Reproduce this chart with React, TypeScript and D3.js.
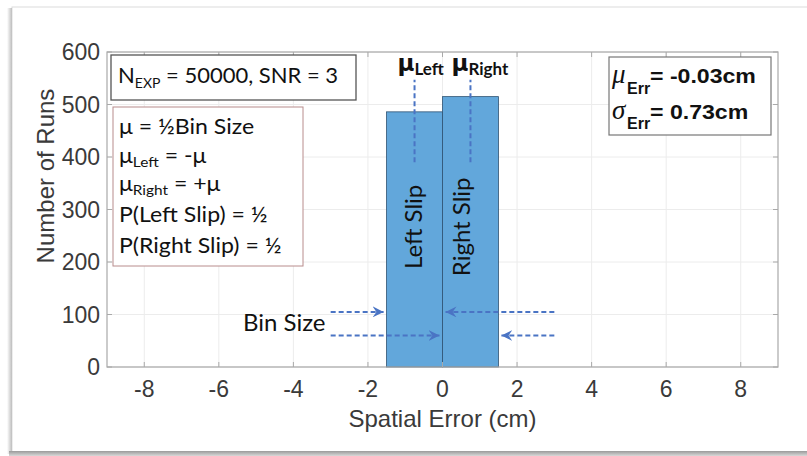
import React from 'react';
import * as d3 from 'd3';

const W = 807, H = 456;
const xTicks = [-8, -6, -4, -2, 0, 2, 4, 6, 8];
const yTicks = [0, 100, 200, 300, 400, 500, 600];
const binEdges = [-1.5, 0, 1.5];
const binCounts = [486, 515];
const binLabels = ['Left Slip', 'Right Slip'];
const binLabelAt = [-0.56, 0.74];
const binLabelMid = 267;
const muPositions = [-0.75, 0.75];
const muNames = ['Left', 'Right'];
const muLineRange = [390, 547];
const arrowStarts = [-3, -3, 3, 3];
const arrowEnds = [-1.5, 0, 0, 1.5];
const arrowLevels = [105, 60, 105, 60];
const infoLines = [
  { main: 'μ = ½Bin Size', sub: '', rest: '' },
  { main: 'μ', sub: 'Left', rest: ' = -μ' },
  { main: 'μ', sub: 'Right', rest: ' = +μ' },
  { main: 'P(Left Slip) = ½', sub: '', rest: '' },
  { main: 'P(Right Slip) = ½', sub: '', rest: '' },
];
const infoBaselines = [134, 163, 191, 222, 253];
const statSymbols = ['μ', 'σ'];
const statValues = ['= -0.03cm', '= 0.73cm'];

const AX = 'Liberation Sans, Arial, Helvetica, sans-serif';
const CAL = 'Lato, Carlito, Calibri, sans-serif';
const BLUE = '#4a74c4';

function T({ x, y, sx = 1, children, ...rest }: any) {
  return (
    <text transform={`translate(${x},${y}) scale(${sx},1)`} {...rest}>{children}</text>
  );
}

export default function App() {
  const m = { l: 107, r: 778, t: 52, b: 367 };
  const x = d3.scaleLinear().domain([-9, 9]).range([m.l, m.r]);
  const y = d3.scaleLinear().domain([0, 600]).range([m.b, m.t]);
  const tickLen = 5;
  const axisColor = '#a9a9a9';
  const gridColor = '#ececec';
  const labelColor = '#3a3a3a';

  return (
    <svg width={W} height={H} style={{ position: 'absolute', left: 0, top: 0, background: '#fff' }}
      xmlns="http://www.w3.org/2000/svg">
      <defs>
        <marker id="ah" viewBox="0 0 10 10" refX="10" refY="5" markerWidth="11" markerHeight="11"
          markerUnits="userSpaceOnUse" orient="auto">
          <path d="M0,0 L10,5 L0,10 L3.5,5 Z" fill={BLUE} />
        </marker>
        <linearGradient id="lsh" x1="0" x2="1" y1="0" y2="0">
          <stop offset="0" stopColor="#fff" />
          <stop offset="1" stopColor="#bdbdbd" />
        </linearGradient>
        <linearGradient id="bsh" x1="0" x2="0" y1="0" y2="1">
          <stop offset="0" stopColor="#9a9a9a" />
          <stop offset="1" stopColor="#d8d8d8" />
        </linearGradient>
      </defs>
      {/* outer frame */}
      <rect x={12} y={7} width={W} height={445} fill="#fff" stroke="#dcdcdc" strokeWidth={1} />
      <rect x={7} y={8} width={5} height={446} fill="url(#lsh)" />
      <rect x={9} y={451} width={W} height={5} fill="url(#bsh)" />

      {/* grid */}
      {xTicks.map(t => (
        <line key={'gx' + t} x1={x(t)} x2={x(t)} y1={m.t} y2={m.b} stroke={gridColor} strokeWidth={1} />
      ))}
      {yTicks.map(t => (
        <line key={'gy' + t} x1={m.l} x2={m.r} y1={y(t)} y2={y(t)} stroke={gridColor} strokeWidth={1} />
      ))}

      {/* bars */}
      {binCounts.map((c, i) => (
        <rect key={'b' + i} x={x(binEdges[i])} y={y(c)} width={x(binEdges[i + 1]) - x(binEdges[i])}
          height={y(0) - y(c)} fill="#62a7db" stroke="#2e5272" strokeWidth={0.8} />
      ))}

      {/* axes box */}
      <rect x={m.l} y={m.t} width={m.r - m.l} height={m.b - m.t} fill="none" stroke={axisColor} strokeWidth={1.2} />
      {xTicks.map(t => (
        <g key={'tx' + t}>
          <line x1={x(t)} x2={x(t)} y1={m.b} y2={m.b - tickLen} stroke={axisColor} />
          <line x1={x(t)} x2={x(t)} y1={m.t} y2={m.t + tickLen} stroke={axisColor} />
          <text x={x(t)} y={397} textAnchor="middle" fontFamily={AX} fontSize={23} fill={labelColor}>{t}</text>
        </g>
      ))}
      {yTicks.map(t => (
        <g key={'ty' + t}>
          <line x1={m.l} x2={m.l + tickLen} y1={y(t)} y2={y(t)} stroke={axisColor} />
          <line x1={m.r} x2={m.r - tickLen} y1={y(t)} y2={y(t)} stroke={axisColor} />
          <text x={100} y={y(t) + 8} textAnchor="end" fontFamily={AX} fontSize={23} fill={labelColor}>{t}</text>
        </g>
      ))}
      <text x={x(0)} y={427} textAnchor="middle" fontFamily={AX} fontSize={24} fill={labelColor}>Spatial Error (cm)</text>
      <text transform="translate(54,176) rotate(-90)" textAnchor="middle" fontFamily={AX} fontSize={24} fill={labelColor}>Number of Runs</text>

      {/* mu dashed lines */}
      {muPositions.map((p, i) => (
        <g key={'mu' + i}>
          <line x1={x(p)} x2={x(p)} y1={y(muLineRange[0])} y2={y(muLineRange[1])} stroke={BLUE}
            strokeWidth={2} strokeDasharray="5,3" />
          <text x={x(p) - (i === 0 ? 17 : 19)} y={71} fontFamily="DejaVu Sans, sans-serif" fontWeight="bold" fontSize={23} fill="#111">μ
            <tspan fontFamily={CAL} fontWeight="bold" fontSize={17} dy={4}>{muNames[i]}</tspan>
          </text>
        </g>
      ))}

      {/* bar labels */}
      {binLabels.map((s, i) => (
        <text key={'bl' + i} transform={`translate(${x(binLabelAt[i])},${y(binLabelMid)}) rotate(-90)`}
          textAnchor="middle" fontFamily={CAL} fontSize={24} fill="#111">{s}</text>
      ))}

      {/* bin size arrows */}
      {arrowStarts.map((s, i) => (
        <line key={'ar' + i} x1={x(s)} x2={x(arrowEnds[i]) + (arrowEnds[i] > s ? -3 : 3)} y1={y(arrowLevels[i])} y2={y(arrowLevels[i])}
          stroke={BLUE} strokeWidth={2} strokeDasharray="5,3" markerEnd="url(#ah)" />
      ))}
      <text x={243} y={331} fontFamily={CAL} fontSize={24} fill="#111">Bin Size</text>

      {/* box 1 */}
      <rect x={111} y={55} width={245} height={45} fill="#fff" stroke="#555" strokeWidth={1.3} />
      <text x={118} y={83} fontFamily={CAL} fontSize={22} fill="#111">N
        <tspan fontSize={14} dy={5}>EXP</tspan>
        <tspan dy={-5}> = 50000, SNR = 3</tspan>
      </text>

      {/* box 2 */}
      <rect x={113} y={107} width={190} height={159} fill="#fff" stroke="#b88c8c" strokeWidth={1} />
      {infoLines.map((ln, i) => (
        <T key={'il' + i} x={119} y={infoBaselines[i]} sx={1.1} fontFamily={CAL} fontSize={21} fill="#111">
          {ln.main}
          {ln.sub && <tspan fontSize={14} dy={4}>{ln.sub}</tspan>}
          {ln.rest && <tspan dy={-4}>{ln.rest}</tspan>}
        </T>
      ))}

      {/* box 3 */}
      <rect x={609} y={57} width={162} height={78} fill="#fff" stroke="#777" strokeWidth={1.2} />
      {statSymbols.map((s, i) => (
        <g key={'st' + i}>
          <text x={612} y={83 + i * 36} fontFamily="Liberation Serif, serif" fontStyle="italic" fontSize={27} fill="#111">{s}</text>
          <text x={627} y={94 + i * 35} fontFamily={AX} fontWeight="bold" fontSize={16} fill="#111">Err</text>
          <T x={650} y={83 + i * 36} sx={1.1} fontFamily={AX} fontWeight="bold" fontSize={21} fill="#111">{statValues[i]}</T>
        </g>
      ))}
    </svg>
  );
}
